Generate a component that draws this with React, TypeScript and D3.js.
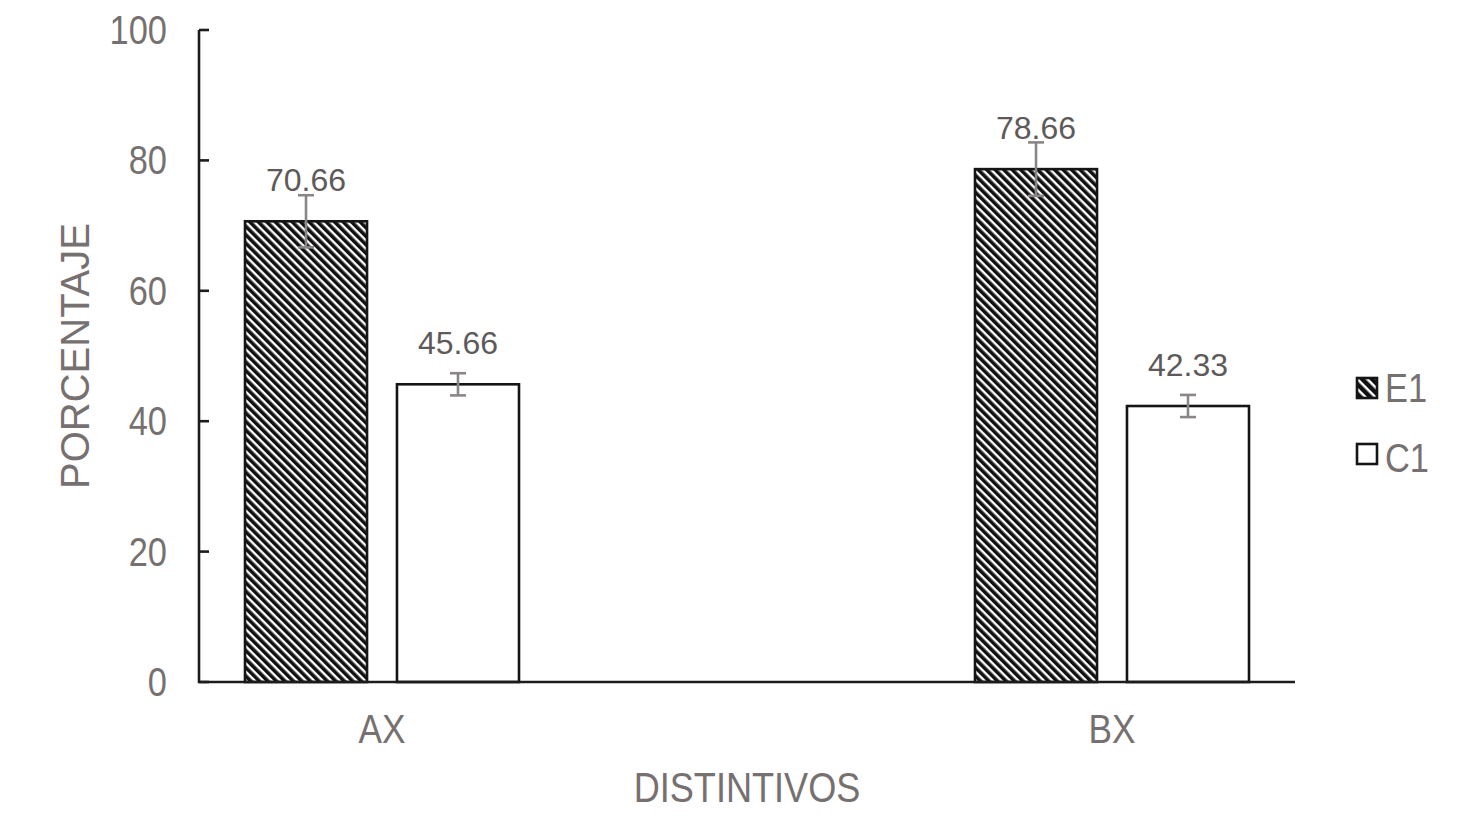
import React from "react";
import * as d3 from "d3";

const categories = ["AX", "BX"];
const seriesNames = ["E1", "C1"];
const e1Values = [70.66, 78.66];
const c1Values = [45.66, 42.33];
const e1Errors = [4.0, 4.1];
const c1Errors = [1.7, 1.7];
const yTicks = [0, 20, 40, 60, 80, 100];

const W = 1475;
const H = 824;

export default function App() {
  const y = d3.scaleLinear().domain([0, 100]).range([682, 30]);
  const x = d3.scalePoint<string>().domain(categories).range([382, 1112]);
  const sub = d3.scaleBand<string>().domain(seriesNames).range([-137, 137]).paddingInner(0.197);
  const axisColor = "#1c1c1c";
  const textColor = "#767170";
  const labelColor = "#5e5a5a";
  const errColor = "#8a8686";
  const font = "Liberation Sans, Arial, sans-serif";

  const series = [
    { name: "E1", values: e1Values, errors: e1Errors, fill: "url(#hatch)" },
    { name: "C1", values: c1Values, errors: c1Errors, fill: "#ffffff" },
  ];

  const ScaledText = ({ x: tx, y: ty, anchor, size, sx, children, fill }: any) => (
    <g transform={`translate(${tx},${ty}) scale(${sx},1)`}>
      <text x={0} y={0} textAnchor={anchor} fontSize={size} fill={fill} fontFamily={font}>
        {children}
      </text>
    </g>
  );

  return (
    <svg width={W} height={H} style={{ position: "absolute", left: 0, top: 0 }}>
      <defs>
        <pattern id="hatch" patternUnits="userSpaceOnUse" width={6} height={6} patternTransform="rotate(-45)">
          <rect x={0} y={0} width={6} height={6} fill="#ffffff" />
          <rect x={0} y={0} width={3.6} height={6} fill="#111111" />
        </pattern>
        <pattern id="hatchLeg" patternUnits="userSpaceOnUse" width={7} height={7} patternTransform="rotate(-45)">
          <rect x={0} y={0} width={7} height={7} fill="#ffffff" />
          <rect x={0} y={0} width={4.5} height={7} fill="#111111" />
        </pattern>
      </defs>
      <rect width={W} height={H} fill="#ffffff" />

      {/* bars */}
      {series.map((s) =>
        categories.map((c, i) => {
          const bx = (x(c) as number) + (sub(s.name) as number);
          const bw = sub.bandwidth();
          const top = y(s.values[i]);
          const cx = bx + bw / 2;
          return (
            <g key={s.name + c}>
              <rect x={bx} y={top} width={bw} height={y(0) - top} fill={s.fill} stroke="#151515" strokeWidth={2.6} />
              <g stroke={errColor} strokeWidth={2.6}>
                <line x1={cx} x2={cx} y1={y(s.values[i] + s.errors[i])} y2={y(s.values[i] - s.errors[i])} />
                <line x1={cx - 8} x2={cx + 8} y1={y(s.values[i] + s.errors[i])} y2={y(s.values[i] + s.errors[i])} />
                <line x1={cx - 8} x2={cx + 8} y1={y(s.values[i] - s.errors[i])} y2={y(s.values[i] - s.errors[i])} />
              </g>
              <text x={cx} y={top - 30} textAnchor="middle" fontSize={32} fill={labelColor} fontFamily={font}>
                {s.values[i].toFixed(2)}
              </text>
            </g>
          );
        })
      )}

      {/* axes */}
      <line x1={199} x2={199} y1={y(100)} y2={y(0) + 1} stroke={axisColor} strokeWidth={2.6} />
      <line x1={198} x2={1295} y1={y(0)} y2={y(0)} stroke={axisColor} strokeWidth={2.6} />
      {yTicks.map((t) => (
        <g key={t}>
          <line x1={199} x2={209} y1={y(t)} y2={y(t)} stroke={axisColor} strokeWidth={2.6} />
          <ScaledText x={167} y={y(t) + 14} anchor="end" size={41} sx={0.84} fill={textColor}>
            {t}
          </ScaledText>
        </g>
      ))}
      {categories.map((c) => (
        <ScaledText key={c} x={x(c) as number} y={743} anchor="middle" size={41} sx={0.86} fill={textColor}>
          {c}
        </ScaledText>
      ))}
      <ScaledText x={747} y={802} anchor="middle" size={42} sx={0.86} fill={textColor}>
        DISTINTIVOS
      </ScaledText>
      <text
        transform={`translate(89,356) rotate(-90)`}
        textAnchor="middle"
        fontSize={40}
        fill={textColor}
        fontFamily={font}
      >
        PORCENTAJE
      </text>

      {/* legend */}
      {series.map((s, i) => {
        const ly = 388 + i * 66;
        return (
          <g key={s.name}>
            <rect x={1357} y={ly - 10} width={20} height={20} fill={i === 0 ? "url(#hatchLeg)" : "#fff"} stroke="#151515" strokeWidth={2.6} />
            <ScaledText x={1385} y={ly + 14 + i * 4} anchor="start" size={41} sx={0.84} fill={textColor}>
              {s.name}
            </ScaledText>
          </g>
        );
      })}
    </svg>
  );
}
